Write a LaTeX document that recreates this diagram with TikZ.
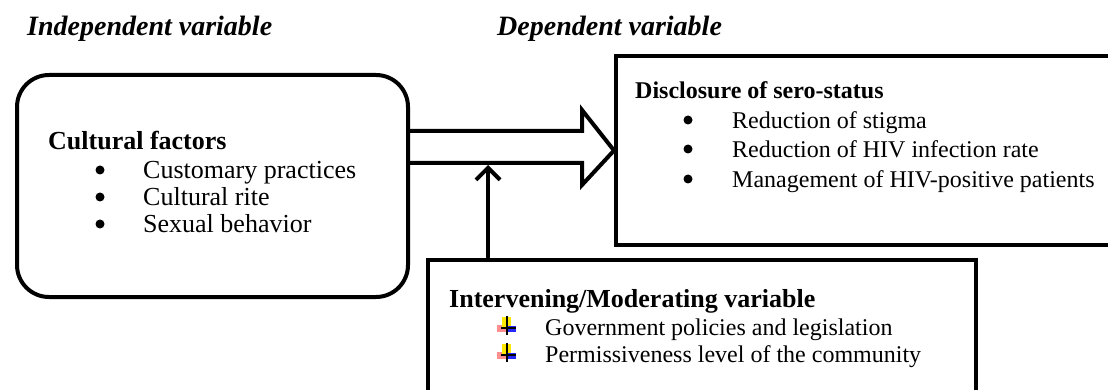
\documentclass[tikz,border=0pt]{standalone}
\usepackage{fontspec}
\setmainfont{Liberation Serif}
\usetikzlibrary{arrows.meta}
\begin{document}
\tikzset{
  frame/.style={draw, line width=4pt, inner sep=0pt, anchor=north west},
  ttl/.style={anchor=base west, inner sep=0pt, font=\fontsize{28}{32}\selectfont\bfseries\itshape},
  headA/.style={anchor=base west, inner sep=0pt, font=\fontsize{26}{30}\selectfont\bfseries},
  headB/.style={anchor=base west, inner sep=0pt, font=\fontsize{24}{28}\selectfont\bfseries},
  bodyA/.style={anchor=base west, inner sep=0pt, font=\fontsize{26}{30}\selectfont},
  bodyB/.style={anchor=base west, inner sep=0pt, font=\fontsize{24}{28}\selectfont},
  bul/.style={circle, fill, inner sep=0pt, minimum size=9pt, yshift=9pt},
  quad/.pic={
    \fill[red!55, opacity=0.8] (-10,-2) rectangle (0,5);
    \fill[yellow!90!orange] (-5,-10) rectangle (4,1);
    \fill[blue!85] (0,-1) rectangle (9,5);
    \draw[line width=1.6pt] (0,-11) -- (0,8);
    \draw[line width=1.6pt] (-6,1) -- (9,1);
  }
}
\begin{tikzpicture}[x=1pt,y=-1pt]
\useasboundingbox (0,0) rectangle (1108,390);
\clip (0,0) rectangle (1108,390);
\fill[white] (0,0) rectangle (1108,390);
% titles
\node[ttl] (tind) at (27,36) {Independent variable};
\node[ttl] (tdep) at (497,36) {Dependent variable};
% boxes
\node[frame, rounded corners=32pt, minimum width=391pt, minimum height=222pt] (indep) at (15,73) {};
\node[frame, minimum width=520pt, minimum height=189pt] (dep) at (614,54) {};
\node[frame, minimum width=548pt, minimum height=170pt] (mod) at (426,258) {};
% left box text
\node[headA] (h1) at (48,150) {Cultural factors};
\node[bul] (b11) at (100,179) {};
\node[bodyA] (l11) at (143,179) {Customary practices};
\node[bul] (b12) at (100,206) {};
\node[bodyA] (l12) at (143,206) {Cultural rite};
\node[bul] (b13) at (100,233) {};
\node[bodyA] (l13) at (143,233) {Sexual behavior};
% right box text
\node[headB] (h2) at (635,99) {Disclosure of sero-status};
\node[bul] (b21) at (688,129) {};
\node[bodyB] (l21) at (732,129) {Reduction of stigma};
\node[bul] (b22) at (688,158) {};
\node[bodyB] (l22) at (732,158) {Reduction of HIV infection rate};
\node[bul] (b23) at (688,188) {};
\node[bodyB] (l23) at (732,188) {Management of HIV-positive patients};
% bottom box text
\node[headA] (h3) at (449,307) {Intervening/Moderating variable};
\pic at (507,327) {quad};
\node[bodyB] (l31) at (545,335) {Government policies and legislation};
\pic at (507,354) {quad};
\node[bodyB] (l32) at (545,362) {Permissiveness level of the community};
% block arrow
\coordinate (aU) at (406,131);
\coordinate (aL) at (406,163);
\draw[line width=4pt, line join=miter] (aU) -- (582,131) -- (582,110) -- (dep.west) -- (582,185) -- (582,163) -- (aL);
% vertical arrow
\coordinate (vtip) at (488,165);
\draw[line width=4pt, -{Straight Barb[length=12pt,width=24pt,line width=4pt]}] (mod.north -| vtip) -- (vtip);
\end{tikzpicture}
\end{document}
